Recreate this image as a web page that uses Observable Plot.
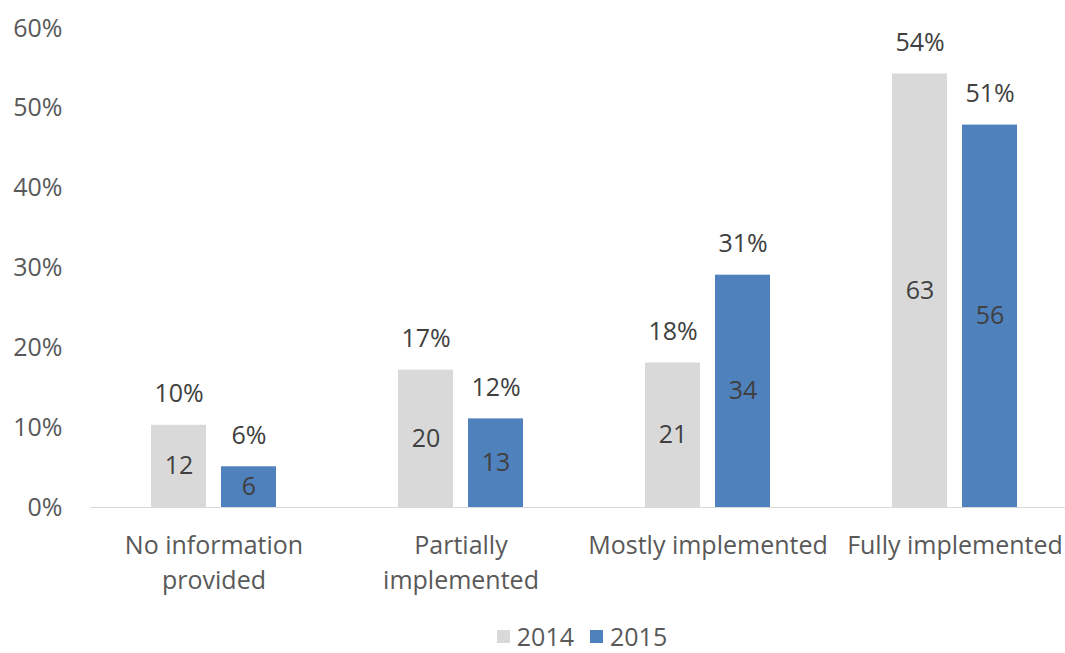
<!DOCTYPE html>
<html><head><meta charset="utf-8">
<script src="https://cdn.jsdelivr.net/npm/d3@7"></script>
<script src="https://cdn.jsdelivr.net/npm/@observablehq/plot@0.6"></script>
<style>
body{margin:0;background:#fff;font-family:"Open Sans",sans-serif;}
#legend{display:flex;justify-content:center;align-items:center;height:33px;padding-top:5px;padding-bottom:6px;font-size:25px;color:#595959;padding-left:99px;box-sizing:border-box;width:1065px;}
#legend .item{display:flex;align-items:center;margin:0 8px;line-height:22px;}
#legend .sw{width:13px;height:13px;margin-right:7px;}
</style></head><body><div id="chart"></div><div id="legend"></div>
<script>
const categories = ["No information provided","Partially implemented","Mostly implemented","Fully implemented"];
const categoryLabels = ["No information\nprovided","Partially\nimplemented","Mostly implemented","Fully implemented"];
const series = ["2014","2015"];
const colors = ["#d9d9d9","#4f81bd"];
const values2014 = [10.3,17.2,18.1,54.3];
const values2015 = [5.1,11.1,29.1,47.9];
const pctLabels2014 = ["10%","17%","18%","54%"];
const pctLabels2015 = ["6%","12%","31%","51%"];
const counts2014 = [12,20,21,63];
const counts2015 = [6,13,34,56];
const yTicks = [0,10,20,30,40,50,60];

const data = [];
categories.forEach((c,i)=>{
  data.push({category:c, series:series[0], value:values2014[i], pct:pctLabels2014[i], count:counts2014[i]});
  data.push({category:c, series:series[1], value:values2015[i], pct:pctLabels2015[i], count:counts2015[i]});
});

const chart = Plot.plot({
  width:1065, height:620, marginTop:28, marginBottom:113, marginLeft:90, marginRight:0,
  style:{fontFamily:'"Open Sans", sans-serif', fontSize:"25px", color:"#595959", background:"#fff", overflow:"hidden"},
  fx:{domain:categories, range:[90,1078], padding:0, label:null},
  x:{domain:series, paddingInner:0.214, paddingOuter:0.871, axis:null},
  y:{domain:[0,60], axis:null},
  color:{domain:series, range:colors},
  marks:[
    Plot.ruleY([0], {stroke:"#d9d9d9", strokeWidth:1}),
    Plot.barY(data, {fx:"category", x:"series", y:"value", fill:"series"}),
    Plot.text(data, {fx:"category", x:"series", y:"value", text:"pct", dy:-31, fill:"#404040"}),
    Plot.text(data, {fx:"category", x:"series", y:d=>d.value/2, text:"count", fill:"#404040"}),
    Plot.axisY(yTicks, {tickSize:0, tickPadding:28, tickFormat:d=>d+"%", fill:"#595959", label:null}),
    Plot.axisFx({anchor:"bottom", tickSize:0, tickPadding:22, tickFormat:c=>categoryLabels[categories.indexOf(c)], lineHeight:1.4, fill:"#595959", label:null})
  ]
});
document.getElementById("chart").appendChild(chart);

const legend = document.getElementById("legend");
series.forEach((s,i)=>{
  const item = document.createElement("div"); item.className="item";
  const sw = document.createElement("div"); sw.className="sw"; sw.style.background=colors[i];
  const t = document.createElement("span"); t.textContent=s;
  item.appendChild(sw); item.appendChild(t); legend.appendChild(item);
});
</script></body></html>
